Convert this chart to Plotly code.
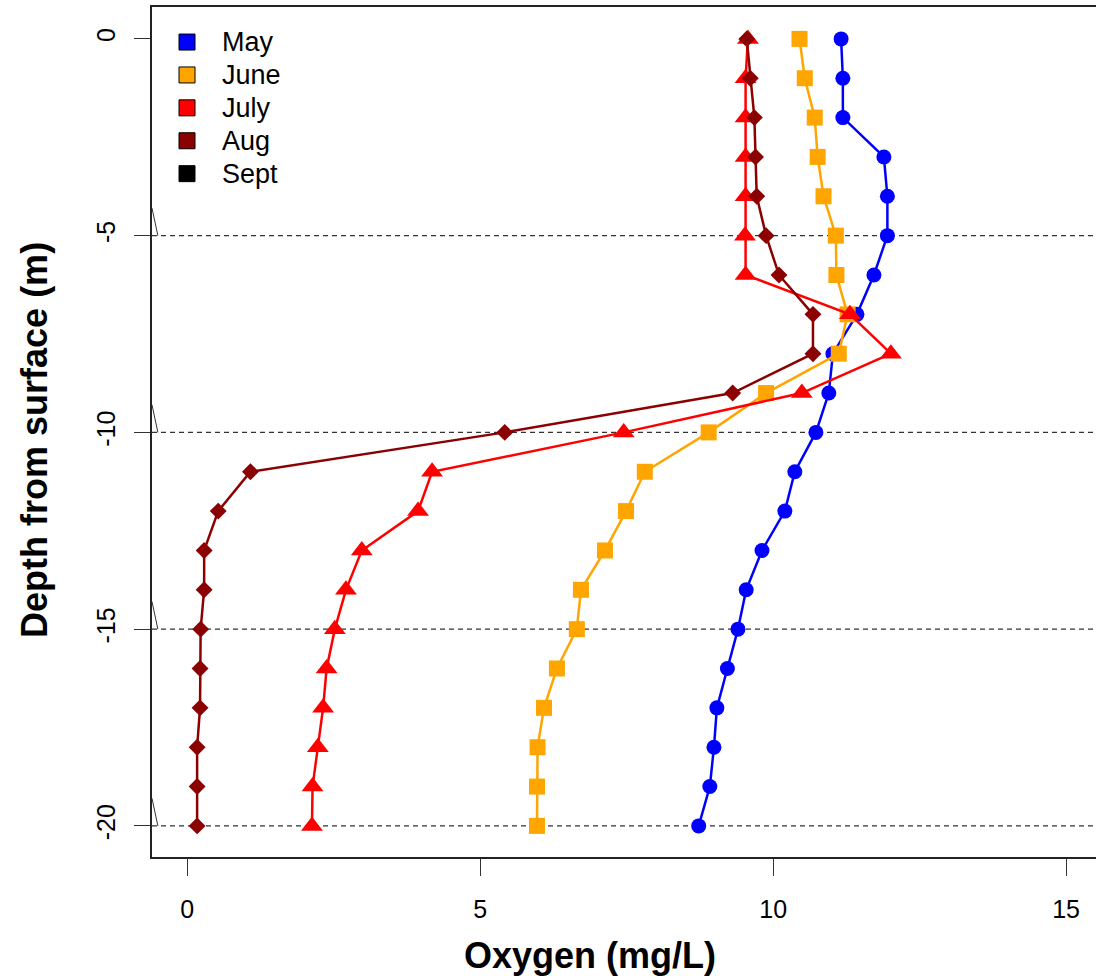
import plotly.graph_objects as go

depth = [0, -1, -2, -3, -4, -5, -6, -7, -8, -9, -10, -11, -12, -13, -14, -15, -16, -17, -18, -19, -20]

may = [11.16, 11.19, 11.19, 11.89, 11.95, 11.95, 11.72, 11.43, 11.02, 10.95, 10.73,
       10.37, 10.20, 9.81, 9.54, 9.40, 9.22, 9.04, 8.99, 8.92, 8.73]
june = [10.45, 10.54, 10.71, 10.76, 10.86, 11.07, 11.08, 11.27, 11.12, 9.88, 8.90,
        7.81, 7.49, 7.13, 6.72, 6.65, 6.31, 6.09, 5.98, 5.97, 5.97]
july = [9.57, 9.53, 9.53, 9.53, 9.53, 9.52, 9.53, 11.31, 12.01, 10.49, 7.45,
        4.18, 3.94, 2.98, 2.71, 2.52, 2.38, 2.32, 2.23, 2.14, 2.13]
aug = [9.55, 9.61, 9.68, 9.70, 9.72, 9.88, 10.10, 10.68, 10.68, 9.31, 5.42,
       1.08, 0.53, 0.29, 0.29, 0.23, 0.22, 0.22, 0.17, 0.17, 0.17]

months = ["May", "June", "July", "Aug", "Sept"]
colors = ["#0000FF", "#FFA500", "#FF0000", "#8B0000", "#000000"]
series = [may, june, july, aug]
symbols = ["circle", "square", "triangle-up", "diamond"]
sizes = [15, 16, 19, 13]

grid_depths = [-5, -10, -15, -20]
x_ticks = [0, 5, 10, 15]
y_ticks = [0, -5, -10, -15, -20]
y_ticktext = ["0", "-5", "-10", "-15", "-20"]

FONT = "Liberation Sans, Arial, sans-serif"

fig = go.Figure()

for vals, col, sym, sz in zip(series, colors, symbols, sizes):
    fig.add_trace(go.Scatter(
        x=vals, y=depth, mode="lines+markers",
        line=dict(color=col, width=2.5),
        marker=dict(symbol=sym, size=sz, color=col, line=dict(width=0)),
        showlegend=False, hoverinfo="skip",
    ))

for name, col in zip(months, colors):
    fig.add_trace(go.Scatter(
        x=[None], y=[None], mode="markers",
        name=f"<span style='font-size:27px'>{name}</span>",
        marker=dict(symbol="square", size=16, color=col, line=dict(color="black", width=1)),
        showlegend=True,
    ))

shapes = []
for d in grid_depths:
    shapes.append(dict(type="line", xref="paper", yref="y", x0=0, x1=1, y0=d, y1=d,
                       line=dict(color="#333333", width=1.2, dash="5px,4px"), layer="below"))
    shapes.append(dict(type="line", xref="x", yref="y", x0=-0.6, x1=-0.5, y0=d + 0.7, y1=d,
                       line=dict(color="#333333", width=1)))

annotations = [
    dict(text="<b>Oxygen (mg/L)</b>", xref="paper", yref="paper", x=0.464, y=-0.116,
         xanchor="center", yanchor="middle", showarrow=False, font=dict(size=36)),
    dict(text="<b>Depth from surface (m)</b>", xref="paper", yref="paper", x=-0.124, y=0.4906,
         xanchor="center", yanchor="middle", showarrow=False, textangle=-90, font=dict(size=36)),
]

fig.update_layout(
    width=1096, height=978,
    margin=dict(l=152, r=0, t=7, b=121),
    paper_bgcolor="white", plot_bgcolor="white",
    font=dict(family=FONT, size=26, color="black"),
    shapes=shapes,
    annotations=annotations,
    legend=dict(x=0.0, y=0.984, xanchor="left", yanchor="top",
                bgcolor="rgba(0,0,0,0)", font=dict(size=23, family=FONT),
                itemsizing="trace", itemwidth=60, tracegroupgap=0),
    xaxis=dict(range=[-0.6, 15.51], tickvals=x_ticks, ticks="outside", ticklen=17,
               tickwidth=1.2, tickcolor="#333333", showgrid=False, zeroline=False,
               showline=True, linecolor="#222222", linewidth=2, mirror=True,
               tickfont=dict(size=25), ticklabelstandoff=12),
    yaxis=dict(range=[-20.79, 0.81], tickvals=y_ticks, ticktext=y_ticktext,
               ticks="outside", ticklen=16,
               tickwidth=1.2, tickcolor="#333333", showgrid=False, zeroline=False,
               showline=True, linecolor="#222222", linewidth=2, mirror=False,
               tickangle=-90, tickfont=dict(size=25), ticklabelstandoff=9),
)

fig.write_html("out.html")
